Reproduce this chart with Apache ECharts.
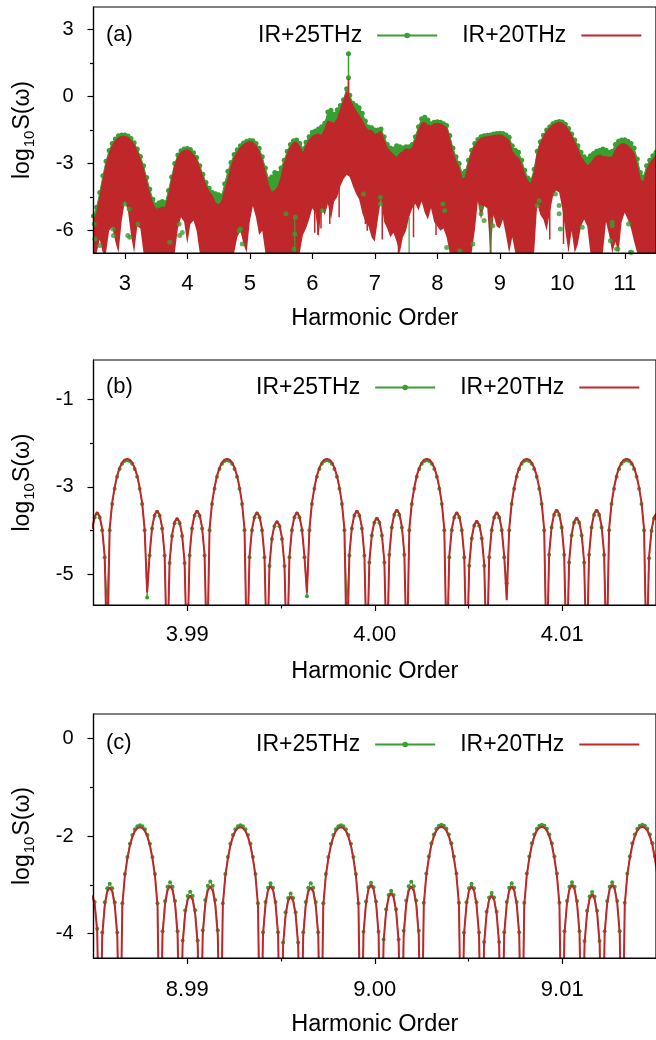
<!DOCTYPE html>
<html>
<head>
<meta charset="utf-8">
<script src="https://cdn.jsdelivr.net/npm/echarts@6/dist/echarts.min.js"></script>
<style>
html, body { margin: 0; padding: 0; background: #fff; overflow: hidden; }
#chart { width: 656px; height: 1040px; }
</style>
</head>
<body>
<div id="chart"></div>
<script>
// series names
const legendNames = ['IR+25THz', 'IR+20THz'];

// ---------- panel (a): whole spectrum, sampled every 0.05 harmonic ----------
const aStart = 2.5, aStep = 0.05;
// upper edge of the red (IR+20THz) spectrum
const aRedTop = [
  -5.6,-5.2,-4.5,-3.75,-3.05,-2.55,-2.2,-1.97,-1.83,-1.78,
  -1.78,-1.83,-1.95,-2.15,-2.45,-2.8,-3.25,-3.8,-4.35,-4.8,
  -5.05,-5.0,-4.95,-4.95,-4.4,-3.75,-3.1,-2.7,-2.49,-2.41,
  -2.39,-2.44,-2.6,-2.82,-3.2,-3.6,-3.99,-4.25,-4.45,-4.75,
  -4.85,-4.7,-4.2,-3.7,-3.15,-2.75,-2.49,-2.28,-2.15,-2.06,
  -2.02,-2.05,-2.2,-2.45,-2.87,-3.4,-3.95,-4.3,-4.2,-4.05,
  -3.61,-3.0,-2.57,-2.25,-2.07,-2.04,-2.25,-2.55,-2.2,-1.95,
  -1.78,-1.72,-1.67,-1.75,-1.45,-1.1,-1.15,-1.2,-1.0,-0.6,
  -0.18,0.19,-0.1,-0.4,-0.65,-0.85,-1.07,-1.35,-1.52,-1.52,
  -1.7,-1.65,-1.55,-1.95,-2.3,-2.45,-2.6,-2.72,-2.55,-2.45,
  -2.34,-2.38,-2.3,-1.95,-1.5,-1.2,-1.15,-1.3,-1.32,-1.22,
  -1.2,-1.22,-1.3,-1.4,-1.9,-2.49,-2.9,-3.2,-3.7,-3.6,
  -3.0,-2.5,-2.2,-2.0,-1.87,-1.82,-1.8,-1.78,-1.75,-1.73,
  -1.72,-1.75,-1.85,-1.97,-2.45,-2.65,-2.75,-3.05,-3.5,-3.8,
  -3.9,-3.4,-2.55,-2.1,-1.8,-1.55,-1.4,-1.27,-1.2,-1.17,
  -1.2,-1.3,-1.5,-1.75,-2.05,-2.35,-2.7,-2.9,-3.1,-3.0,
  -2.8,-2.65,-2.62,-2.68,-2.7,-2.72,-2.7,-2.4,-2.2,-2.12,
  -2.12,-2.2,-2.35,-2.55,-3.1,-3.7,-3.85,-3.3,-3.0,-2.8,
  -2.65
];
// lower edge of the filled spectrum (-7 = reaches the axis)
const aRedLow = [
  -7,-7,-6.4,-7,-7,-6.0,-5.85,-6.5,-7,-5.6,
  -4.7,-5.1,-6.2,-7,-5.8,-5.9,-7,-7,-7,-7,
  -7,-7,-7,-7,-7,-7,-7,-5.9,-5.4,-5.6,
  -6.6,-5.7,-5.55,-6.0,-7,-7,-7,-7,-7,-7,
  -7,-7,-7,-7,-7,-7,-6.3,-6.0,-6.6,-7,
  -5.6,-4.9,-5.4,-6.2,-6.0,-7,-7,-7,-7,-7,
  -7,-7,-7,-7,-7,-7,-7,-6.2,-5.9,-5.5,
  -5.0,-5.2,-6.3,-5.0,-5.3,-4.8,-5.5,-4.7,-4.5,-4.0,
  -3.7,-3.5,-3.6,-4.0,-4.35,-4.6,-5.2,-5.6,-5.8,-6.3,
  -6.5,-5.5,-4.6,-5.6,-5.9,-6.3,-6.1,-6.5,-7,-6.3,
  -6.0,-5.4,-5.0,-4.8,-5.1,-4.7,-5.2,-5.5,-5.0,-5.6,
  -5.8,-6.0,-5.9,-6.3,-7,-7,-7,-7,-7,-7,
  -7,-7,-6.0,-4.7,-5.5,-4.9,-5.0,-7,-5.3,-5.8,
  -5.9,-5.5,-6.2,-7,-6.3,-7,-7,-7,-7,-7,
  -7,-7,-4.8,-5.3,-5.5,-6.0,-5.2,-4.5,-4.2,-4.3,
  -5.0,-6.0,-7,-6.0,-7,-6.6,-5.8,-5.5,-5.8,-7,
  -7,-7,-7,-7,-5.6,-6.2,-7,-6.5,-7,-5.6,
  -5.2,-5.5,-5.9,-6.5,-7,-7,-7,-7,-7,-7,
  -7
];
// upper edge of the green (IR+25THz) spectrum
const aGreenTop = [
  -5.35,-4.95,-4.3,-3.55,-2.9,-2.42,-2.1,-1.9,-1.76,-1.72,
  -1.72,-1.77,-1.88,-2.07,-2.35,-2.68,-3.1,-3.62,-4.15,-4.6,
  -4.85,-4.75,-4.7,-4.75,-4.2,-3.6,-3.0,-2.62,-2.43,-2.35,
  -2.33,-2.37,-2.52,-2.73,-3.1,-3.48,-3.85,-4.1,-4.3,-4.35,
  -4.4,-4.45,-3.9,-3.35,-2.95,-2.6,-2.38,-2.2,-2.08,-2.0,
  -1.97,-1.98,-2.1,-2.32,-2.7,-3.2,-3.7,-3.6,-3.4,-3.45,
  -3.2,-2.85,-2.45,-2.15,-1.98,-1.95,-2.1,-2.35,-2.05,-1.8,
  -1.6,-1.55,-1.45,-1.35,-1.2,-0.7,-0.62,-0.8,-0.6,-0.4,
  -0.15,0.35,0.05,-0.3,-0.4,-0.5,-0.75,-1.1,-1.37,-1.4,
  -1.5,-1.5,-1.45,-1.8,-2.15,-2.3,-2.35,-2.2,-2.25,-2.3,
  -2.25,-2.25,-2.15,-1.8,-1.35,-1.0,-0.93,-1.05,-1.22,-1.15,
  -1.13,-1.15,-1.22,-1.3,-1.75,-2.3,-2.7,-3.0,-3.45,-3.35,
  -2.85,-2.4,-2.1,-1.93,-1.8,-1.76,-1.74,-1.72,-1.68,-1.66,
  -1.65,-1.66,-1.72,-1.82,-2.2,-2.4,-2.5,-2.85,-3.3,-3.65,
  -3.75,-3.25,-2.45,-2.02,-1.74,-1.5,-1.35,-1.22,-1.15,-1.12,
  -1.14,-1.24,-1.43,-1.68,-1.95,-2.2,-2.5,-2.7,-2.8,-2.65,
  -2.55,-2.45,-2.4,-2.35,-2.4,-2.5,-2.45,-2.15,-2.0,-1.95,
  -1.94,-2.0,-2.1,-2.3,-2.8,-3.4,-3.6,-3.1,-2.85,-2.65,
  -2.5
];
// isolated green points below the red band
const aGreenDots = [
  [2.51,-5.70],[2.52,-6.37],[2.60,-6.67],[2.81,-5.93],[2.82,-6.22],[3.00,-4.81],
  [3.05,-6.22],[3.07,-5.03],[3.08,-6.30],[3.21,-5.70],[3.72,-6.52],[3.87,-5.70],
  [3.88,-6.22],[3.92,-6.08],[4.83,-6.0],[4.85,-5.93],[4.88,-6.6],[5.58,-5.25],
  [5.71,-6.82],[5.72,-6.15],[5.73,-5.4],[6.16,-5.1],[6.82,-4.36],[7.09,-4.51],
  [7.09,-4.81],[8.09,-4.81],[8.12,-5.1],[8.15,-6.75],[8.36,-6.9],[8.57,-6.6],
  [8.70,-5.25],[8.70,-4.96],[8.75,-5.55],[8.89,-5.78],[9.60,-4.88],[9.63,-4.66],
  [9.89,-4.36],[9.95,-4.88],[9.95,-5.25],[9.97,-5.93],[10.32,-5.85],[10.77,-6.45],
  [10.80,-5.78],[10.80,-5.63],[10.87,-6.82],[10.89,-6.82],[11.06,-5.7],[11.09,-6.97],
  [11.11,-6.97]
];
// green lines that drop to the axis: [x, top]
const aGreenDrops = [[5.72,-5.4],[7.55,-5.4],[8.86,-5.4]];
// narrow red dips hanging into the gaps: [x, bottom]
const aRedDrops = [[6.04,-6.1],[6.09,-6.2],[6.14,-5.9],[6.28,-5.7],[6.43,-5.4],[6.85,-5.7],
  [6.88,-6.0],[7.12,-6.4],[7.38,-7],[7.62,-6.3],[7.98,-6.2],[8.85,-7],[9.80,-6.4],[10.02,-6.6]];
// the peak near 6.58
const aGreenSpike = [[6.58,-0.5],[6.58,0.84],[6.58,1.91]];
const aRedSpike = [[6.58,-0.5],[6.58,0.79]];
const aXTicks = [3,4,5,6,7,8,9,10,11];
const aYTicks = [-6,-3,0,3];
const aYMinor = [-4.5,-1.5,1.5];

// ---------- panel (b): zoom near order 4 ----------
const bStart = 3.98493, bStep = 0.00013318;
const bRed = [
  -3.96,-3.67,-3.58,-3.67,-3.96,-4.58,-7,
  -3.96,-3.36,-3.01,-2.74,-2.56,-2.44,-2.38,-2.36,-2.38,-2.44,-2.56,-2.74,-3.01,-3.36,-3.96,-5.41,
  -4.54,-3.92,-3.63,-3.54,-3.63,-3.92,-4.54,-7,
  -4.71,-4.09,-3.80,-3.71,-3.80,-4.09,-4.71,-7,
  -4.54,-3.92,-3.63,-3.54,-3.63,-3.92,-4.54,-7,
  -3.96,-3.36,-3.01,-2.74,-2.56,-2.44,-2.38,-2.36,-2.38,-2.44,-2.56,-2.74,-3.01,-3.36,-3.96,-7,
  -4.58,-3.96,-3.67,-3.58,-3.67,-3.96,-4.58,-7,
  -4.78,-4.16,-3.87,-3.78,-3.87,-4.16,-4.78,-7,
  -4.58,-3.96,-3.67,-3.58,-3.67,-3.96,-4.58,-5.42,
  -3.96,-3.36,-3.01,-2.74,-2.56,-2.44,-2.38,-2.36,-2.38,-2.44,-2.56,-2.74,-3.01,-3.36,-3.96,-7,
  -4.54,-3.92,-3.63,-3.54,-3.63,-3.92,-4.54,-7,
  -4.70,-4.08,-3.79,-3.70,-3.79,-4.08,-4.70,-7,
  -4.52,-3.90,-3.61,-3.52,-3.61,-3.90,-4.52,-7,
  -3.96,-3.36,-3.01,-2.74,-2.56,-2.44,-2.38,-2.36,-2.38,-2.44,-2.56,-2.74,-3.01,-3.36,-3.96,-7,
  -4.58,-3.96,-3.67,-3.58,-3.67,-3.96,-4.58,-7,
  -4.77,-4.15,-3.86,-3.77,-3.86,-4.15,-4.77,-7,
  -4.58,-3.96,-3.67,-3.58,-3.67,-3.96,-4.58,-5.59,
  -3.96,-3.36,-3.01,-2.74,-2.56,-2.44,-2.38,-2.36,-2.38,-2.44,-2.56,-2.74,-3.01,-3.36,-3.96,-7,
  -4.52,-3.90,-3.61,-3.52,-3.61,-3.90,-4.52,-7,
  -4.70,-4.08,-3.79,-3.70,-3.79,-4.08,-4.70,-7,
  -4.52,-3.90,-3.61,-3.52,-3.61,-3.90,-4.52,-7,
  -3.96,-3.36,-3.01,-2.74,-2.56,-2.44,-2.38,-2.36,-2.38,-2.44,-2.56,-2.74,-3.01,-3.36,-3.96,-7,
  -4.60,-3.98,-3.69,-3.60
];
const bGreen = [
  -3.99,-3.70,-3.61,-3.70,-3.99,-4.61,-5.65,
  -3.99,-3.39,-3.04,-2.77,-2.59,-2.47,-2.41,-2.39,-2.41,-2.47,-2.59,-2.77,-3.04,-3.39,-3.99,-5.53,
  -4.57,-3.95,-3.66,-3.57,-3.66,-3.95,-4.57,-7,
  -4.74,-4.12,-3.83,-3.74,-3.83,-4.12,-4.74,-7,
  -4.57,-3.95,-3.66,-3.57,-3.66,-3.95,-4.57,-7,
  -3.99,-3.39,-3.04,-2.77,-2.59,-2.47,-2.41,-2.39,-2.41,-2.47,-2.59,-2.77,-3.04,-3.39,-3.99,-7,
  -4.61,-3.99,-3.70,-3.61,-3.70,-3.99,-4.61,-7,
  -4.81,-4.19,-3.90,-3.81,-3.90,-4.19,-4.81,-7,
  -4.61,-3.99,-3.70,-3.61,-3.70,-3.99,-4.61,-5.5,
  -3.99,-3.39,-3.04,-2.77,-2.59,-2.47,-2.41,-2.39,-2.41,-2.47,-2.59,-2.77,-3.04,-3.39,-3.99,-5.65,
  -4.57,-3.95,-3.66,-3.57,-3.66,-3.95,-4.57,-7,
  -4.73,-4.11,-3.82,-3.73,-3.82,-4.11,-4.73,-7,
  -4.55,-3.93,-3.64,-3.55,-3.64,-3.93,-4.55,-7,
  -3.99,-3.39,-3.04,-2.77,-2.59,-2.47,-2.41,-2.39,-2.41,-2.47,-2.59,-2.77,-3.04,-3.39,-3.99,-7,
  -4.61,-3.99,-3.70,-3.61,-3.70,-3.99,-4.61,-7,
  -4.80,-4.18,-3.89,-3.80,-3.89,-4.18,-4.80,-7,
  -4.61,-3.99,-3.70,-3.61,-3.70,-3.99,-4.61,-5.2,
  -3.99,-3.39,-3.04,-2.77,-2.59,-2.47,-2.41,-2.39,-2.41,-2.47,-2.59,-2.77,-3.04,-3.39,-3.99,-7,
  -4.55,-3.93,-3.64,-3.55,-3.64,-3.93,-4.55,-7,
  -4.73,-4.11,-3.82,-3.73,-3.82,-4.11,-4.73,-7,
  -4.55,-3.93,-3.64,-3.55,-3.64,-3.93,-4.55,-7,
  -3.99,-3.39,-3.04,-2.77,-2.59,-2.47,-2.41,-2.39,-2.41,-2.47,-2.59,-2.77,-3.04,-3.39,-3.99,-7,
  -4.63,-4.01,-3.72,-3.63
];
const bXTicks = [3.99,4.00,4.01];
const bXMinor = [3.995,4.005];
const bYTicks = [-5,-3,-1];
const bYMinor = [-4,-2];

// ---------- panel (c): zoom near order 9 ----------
const cStart = 8.98493, cStep = 0.00013398;
const cRed = [
  -3.22,-3.40,-3.95,-7,
  -4.05,-3.43,-3.14,-3.05,-3.14,-3.43,-4.05,-7,
  -3.42,-2.82,-2.47,-2.20,-2.02,-1.90,-1.84,-1.82,-1.84,-1.90,-2.02,-2.20,-2.47,-2.82,-3.42,-7,
  -4.02,-3.40,-3.11,-3.02,-3.11,-3.40,-4.02,-7,
  -4.22,-3.60,-3.31,-3.22,-3.31,-3.60,-4.22,-7,
  -4.03,-3.41,-3.12,-3.03,-3.12,-3.41,-4.03,-7,
  -3.42,-2.82,-2.47,-2.20,-2.02,-1.90,-1.84,-1.82,-1.84,-1.90,-2.02,-2.20,-2.47,-2.82,-3.42,-7,
  -4.02,-3.40,-3.11,-3.02,-3.11,-3.40,-4.02,-7,
  -4.24,-3.62,-3.33,-3.24,-3.33,-3.62,-4.24,-7,
  -4.05,-3.43,-3.14,-3.05,-3.14,-3.43,-4.05,-7,
  -3.42,-2.82,-2.47,-2.20,-2.02,-1.90,-1.84,-1.82,-1.84,-1.90,-2.02,-2.20,-2.47,-2.82,-3.42,-7,
  -4.00,-3.38,-3.09,-3.00,-3.09,-3.38,-4.00,-7,
  -4.17,-3.55,-3.26,-3.17,-3.26,-3.55,-4.17,-7,
  -4.03,-3.41,-3.12,-3.03,-3.12,-3.41,-4.03,-7,
  -3.41,-2.81,-2.46,-2.19,-2.01,-1.89,-1.83,-1.81,-1.83,-1.89,-2.01,-2.19,-2.46,-2.81,-3.41,-7,
  -4.03,-3.41,-3.12,-3.03,-3.12,-3.41,-4.03,-7,
  -4.22,-3.60,-3.31,-3.22,-3.31,-3.60,-4.22,-7,
  -4.03,-3.41,-3.12,-3.03,-3.12,-3.41,-4.03,-7,
  -3.41,-2.81,-2.46,-2.19,-2.01,-1.89,-1.83,-1.81,-1.83,-1.89,-2.01,-2.19,-2.46,-2.81,-3.41,-7,
  -4.00,-3.38,-3.09,-3.00,-3.09,-3.38,-4.00,-7,
  -4.20,-3.58,-3.29,-3.20,-3.29,-3.58,-4.20,-7,
  -4.00,-3.38,-3.09,-3.00,-3.09,-3.38,-4.00,-7,
  -3.41,-2.81,-2.46,-2.19,-2.01,-1.89,-1.83,-1.81,-1.83,-1.89,-2.01,-2.19,-2.46,-2.81
];
const cGreen = [
  -3.17,-3.35,-3.90,-7,
  -3.98,-3.36,-3.07,-2.98,-3.07,-3.36,-3.98,-7,
  -3.38,-2.78,-2.43,-2.16,-1.98,-1.86,-1.80,-1.78,-1.80,-1.86,-1.98,-2.16,-2.43,-2.78,-3.38,-7,
  -3.95,-3.33,-3.04,-2.95,-3.04,-3.33,-3.95,-7,
  -4.14,-3.52,-3.23,-3.14,-3.23,-3.52,-4.14,-7,
  -3.93,-3.31,-3.02,-2.93,-3.02,-3.31,-3.93,-7,
  -3.38,-2.78,-2.43,-2.16,-1.98,-1.86,-1.80,-1.78,-1.80,-1.86,-1.98,-2.16,-2.43,-2.78,-3.38,-7,
  -3.97,-3.35,-3.06,-2.97,-3.06,-3.35,-3.97,-7,
  -4.18,-3.56,-3.27,-3.18,-3.27,-3.56,-4.18,-7,
  -3.97,-3.35,-3.06,-2.97,-3.06,-3.35,-3.97,-7,
  -3.38,-2.78,-2.43,-2.16,-1.98,-1.86,-1.80,-1.78,-1.80,-1.86,-1.98,-2.16,-2.43,-2.78,-3.38,-7,
  -3.96,-3.34,-3.05,-2.96,-3.05,-3.34,-3.96,-7,
  -4.12,-3.50,-3.21,-3.12,-3.21,-3.50,-4.12,-7,
  -3.94,-3.32,-3.03,-2.94,-3.03,-3.32,-3.94,-7,
  -3.37,-2.77,-2.42,-2.15,-1.97,-1.85,-1.79,-1.77,-1.79,-1.85,-1.97,-2.15,-2.42,-2.77,-3.37,-7,
  -3.98,-3.36,-3.07,-2.98,-3.07,-3.36,-3.98,-7,
  -4.17,-3.55,-3.26,-3.17,-3.26,-3.55,-4.17,-7,
  -3.97,-3.35,-3.06,-2.97,-3.06,-3.35,-3.97,-7,
  -3.37,-2.77,-2.42,-2.15,-1.97,-1.85,-1.79,-1.77,-1.79,-1.85,-1.97,-2.15,-2.42,-2.77,-3.37,-7,
  -3.95,-3.33,-3.04,-2.95,-3.04,-3.33,-3.95,-7,
  -4.15,-3.53,-3.24,-3.15,-3.24,-3.53,-4.15,-7,
  -3.95,-3.33,-3.04,-2.95,-3.04,-3.33,-3.95,-7,
  -3.37,-2.77,-2.42,-2.15,-1.97,-1.85,-1.79,-1.77,-1.79,-1.85,-1.97,-2.15,-2.42,-2.77
];
const cXTicks = [8.99,9.00,9.01];
const cXMinor = [8.995,9.005];
const cYTicks = [-4,-2,0];
const cYMinor = [-3,-1];

// ---------- styling ----------
const FONT = '"Liberation Sans", Arial, Helvetica, sans-serif';
const RED = '#c0272b';
const GREEN = '#389f31';
const BLACK = '#000';

const grids = [
  {left: 91, top: 7, width: 566, height: 246},
  {left: 91.5, top: 360, width: 567, height: 245},
  {left: 92, top: 714, width: 566, height: 244}
];

function xMajor(gridIndex, min, max, ticks, fmt, margin, nameGap) {
  return {
    type: 'value', gridIndex, min, max, position: 'bottom', z: 10,
    axisLine: {show: true, onZero: false, lineStyle: {color: BLACK, width: 1.2}},
    axisTick: {show: true, customValues: ticks, length: 6, lineStyle: {color: BLACK, width: 1.2}},
    axisLabel: {show: true, customValues: ticks, formatter: fmt, margin,
      fontSize: 22, color: BLACK, fontFamily: FONT},
    splitLine: {show: false},
    name: 'Harmonic Order', nameLocation: 'middle', nameGap,
    nameTextStyle: {fontSize: 23.5, color: BLACK, fontFamily: FONT}
  };
}
function xMinor(gridIndex, min, max, ticks) {
  return {
    type: 'value', gridIndex, min, max, position: 'bottom', z: 10,
    axisLine: {show: false, onZero: false},
    axisTick: {show: true, customValues: ticks, length: 3.5, lineStyle: {color: BLACK, width: 1.2}},
    axisLabel: {show: false}, splitLine: {show: false}
  };
}
function yMajor(gridIndex, min, max, ticks) {
  return {
    type: 'value', gridIndex, min, max, position: 'left', z: 10,
    axisLine: {show: true, onZero: false, lineStyle: {color: BLACK, width: 1.2}},
    axisTick: {show: true, customValues: ticks, length: 6, lineStyle: {color: BLACK, width: 1.2}},
    axisLabel: {show: true, customValues: ticks, formatter: v => String(v), margin: 20,
      fontSize: 20, color: BLACK, fontFamily: FONT},
    splitLine: {show: false},
    name: '{a|log}{b|10}{a|S(ω)}', nameLocation: 'middle', nameGap: 56,
    nameTextStyle: {
      color: BLACK, fontFamily: FONT, fontSize: 22,
      rich: {
        a: {fontSize: 23, fontFamily: FONT, color: BLACK, lineHeight: 30, verticalAlign: 'middle'},
        b: {fontSize: 15, fontFamily: FONT, color: BLACK, padding: [14, 1, 0, 1], lineHeight: 30, verticalAlign: 'middle'}
      }
    }
  };
}
function yMinor(gridIndex, min, max, ticks) {
  return {
    type: 'value', gridIndex, min, max, position: 'left', z: 10,
    axisLine: {show: false, onZero: false},
    axisTick: {show: true, customValues: ticks, length: 3.5, lineStyle: {color: BLACK, width: 1.2}},
    axisLabel: {show: false}, splitLine: {show: false}
  };
}

const fmt0 = v => String(v);
const fmt2 = v => v.toFixed(2);

// ---------- build series from the arrays ----------
const aX = i => +(aStart + i * aStep).toFixed(3);
const toA = arr => arr.map((y, i) => [aX(i), y]);
const bPts = arr => arr.map((y, i) => [bStart + i * bStep, y]);
const cPts = arr => arr.map((y, i) => [cStart + i * cStep, y]);

const series = [];
// panel (a): green spectrum filled down to the axis
series.push({
  name: 'a-green-fill', type: 'line', xAxisIndex: 0, yAxisIndex: 0,
  data: toA(aGreenTop), symbol: 'circle', symbolSize: 5, showSymbol: true,
  itemStyle: {color: GREEN}, lineStyle: {color: GREEN, width: 1},
  areaStyle: {color: GREEN, opacity: 1, origin: 'start'}, silent: true, z: 1
});
series.push({
  name: 'a-green-spike', type: 'line', xAxisIndex: 0, yAxisIndex: 0,
  data: aGreenSpike, symbol: 'circle', symbolSize: 5, showSymbol: true,
  itemStyle: {color: GREEN}, lineStyle: {color: GREEN, width: 1.5}, silent: true, z: 1
});
// red spectrum filled down to the axis
series.push({
  name: 'a-red-fill', type: 'line', xAxisIndex: 0, yAxisIndex: 0,
  data: toA(aRedTop), symbol: 'none', lineStyle: {color: RED, width: 1},
  areaStyle: {color: RED, opacity: 1, origin: 'start'}, silent: true, z: 2
});
series.push({
  name: 'a-red-spike', type: 'line', xAxisIndex: 0, yAxisIndex: 0,
  data: aRedSpike, symbol: 'none', lineStyle: {color: RED, width: 1.5}, silent: true, z: 2
});
// white gaps below the lower edge
series.push({
  name: 'a-gaps', type: 'line', xAxisIndex: 0, yAxisIndex: 0,
  data: toA(aRedLow), symbol: 'none', lineStyle: {width: 0, opacity: 0},
  areaStyle: {color: '#fff', opacity: 1, origin: 'start'}, silent: true, z: 3
});
// narrow red dips that hang into the gaps
aRedDrops.forEach((d, k) => {
  series.push({
    name: 'a-red-drop' + k, type: 'line', xAxisIndex: 0, yAxisIndex: 0,
    data: [[d[0], d[1]], [d[0], -4]], symbol: 'none',
    lineStyle: {color: RED, width: 1.5}, silent: true, z: 4
  });
});
// green points and lines that show through the gaps
series.push({
  name: 'a-green-dots', type: 'scatter', xAxisIndex: 0, yAxisIndex: 0,
  data: aGreenDots, symbolSize: 5, itemStyle: {color: GREEN}, silent: true, z: 5
});
aGreenDrops.forEach((d, k) => {
  series.push({
    name: 'a-green-drop' + k, type: 'line', xAxisIndex: 0, yAxisIndex: 0,
    data: [[d[0], -7], [d[0], d[1]]], symbol: 'none',
    lineStyle: {color: GREEN, width: 1.2}, silent: true, z: 5
  });
});

// panels (b) and (c)
[[1, 2, bPts(bGreen), bPts(bRed)], [3, 4, cPts(cGreen), cPts(cRed)]].forEach(([xi, yi, g, r]) => {
  series.push({
    name: 'green-' + xi, type: 'line', xAxisIndex: xi, yAxisIndex: yi, data: g,
    symbol: 'circle', symbolSize: 4, showSymbol: true,
    itemStyle: {color: GREEN}, lineStyle: {color: GREEN, width: 1}, silent: true, z: 1
  });
  series.push({
    name: 'red-' + xi, type: 'line', xAxisIndex: xi, yAxisIndex: yi, data: r,
    symbol: 'none', lineStyle: {color: RED, width: 2}, silent: true, z: 2
  });
});

// legend-only series
series.push({
  name: legendNames[0], type: 'line', xAxisIndex: 0, yAxisIndex: 0, data: [],
  symbol: 'circle', symbolSize: 5, itemStyle: {color: GREEN}, lineStyle: {color: GREEN, width: 1.2}
});
series.push({
  name: legendNames[1], type: 'line', xAxisIndex: 0, yAxisIndex: 0, data: [],
  symbol: 'none', itemStyle: {color: RED}, lineStyle: {color: RED, width: 2}
});

function legendAt(left, top) {
  return {
    data: [{name: legendNames[0]}, {name: legendNames[1], itemStyle: {opacity: 0}}],
    left, top, orient: 'horizontal', align: 'right',
    itemWidth: 60, itemHeight: 7, itemGap: 24, selectedMode: false,
    textStyle: {fontSize: 23, color: BLACK, fontFamily: FONT, padding: [0, 10, 0, 0]}
  };
}

function panelLabel(text, left, top) {
  return {type: 'text', left, top, silent: true, z: 20,
    style: {text, fontSize: 22, fontFamily: FONT, fill: BLACK}};
}

const chart = echarts.init(document.getElementById('chart'), null, {renderer: 'canvas'});
chart.setOption({
  animation: false,
  backgroundColor: '#fff',
  grid: grids.map(g => Object.assign({show: true, borderColor: BLACK, borderWidth: 1.2,
    backgroundColor: 'transparent', containLabel: false, z: 10}, g)),
  xAxis: [
    xMajor(0, 2.5, 11.5, aXTicks, fmt0, 20, 54),
    xMajor(1, 3.985, 4.015, bXTicks, fmt2, 19, 55),
    xMinor(1, 3.985, 4.015, bXMinor),
    xMajor(2, 8.985, 9.015, cXTicks, fmt2, 21, 55),
    xMinor(2, 8.985, 9.015, cXMinor)
  ],
  yAxis: [
    yMajor(0, -7, 4, aYTicks),
    yMinor(0, -7, 4, aYMinor),
    yMajor(1, -5.7, -0.1, bYTicks),
    yMinor(1, -5.7, -0.1, bYMinor),
    yMajor(2, -4.5, 0.5, cYTicks),
    yMinor(2, -4.5, 0.5, cYMinor)
  ],
  legend: [legendAt(253, 19), legendAt(251, 371), legendAt(251, 728)],
  graphic: [
    panelLabel('(a)', 106, 24),
    panelLabel('(b)', 106, 376),
    panelLabel('(c)', 106, 732)
  ],
  series
});
</script>
</body>
</html>
